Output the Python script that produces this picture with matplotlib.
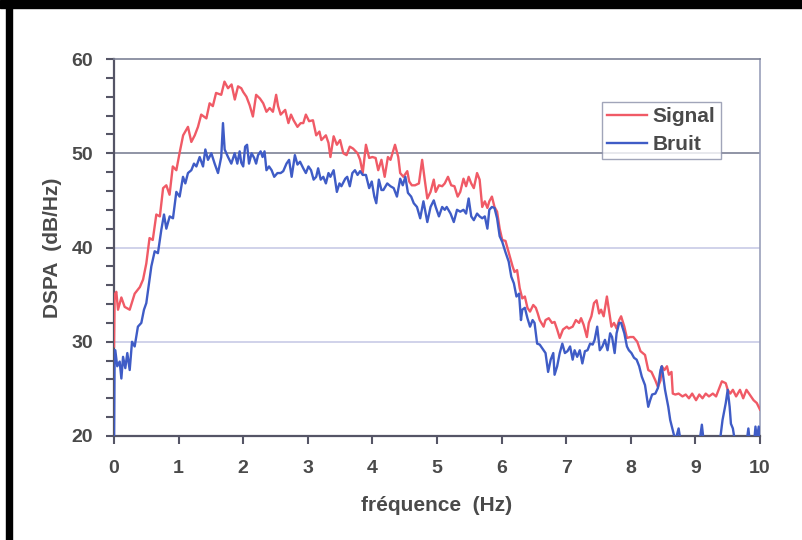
import matplotlib
matplotlib.use('Agg')
import matplotlib.pyplot as plt
from matplotlib.patches import Rectangle
from matplotlib.ticker import MultipleLocator

# Signal (red)
sig_f = [0.0, 0.01, 0.036, 0.062, 0.114, 0.165, 0.243, 0.32, 0.40, 0.45,
         0.50, 0.55, 0.60, 0.655, 0.71, 0.76, 0.81, 0.86, 0.91, 0.965,
         1.02, 1.07, 1.12, 1.145, 1.197, 1.25, 1.30, 1.35, 1.43, 1.48,
         1.53, 1.58, 1.66, 1.71, 1.765, 1.82, 1.87, 1.92, 1.97, 2.0,
         2.05, 2.1, 2.15, 2.2, 2.26, 2.31, 2.36, 2.41, 2.46, 2.51,
         2.54, 2.58, 2.65, 2.70, 2.74, 2.78, 2.84, 2.89, 2.93, 2.97,
         3.02, 3.08, 3.13, 3.18, 3.21, 3.28, 3.32, 3.35, 3.40, 3.45,
         3.50, 3.55, 3.60, 3.65, 3.70, 3.77, 3.81, 3.85, 3.90, 3.95,
         4.0, 4.05, 4.09, 4.14, 4.19, 4.24, 4.28, 4.31, 4.35, 4.40,
         4.43, 4.48, 4.54, 4.57, 4.61, 4.66, 4.72, 4.77, 4.81, 4.85,
         4.90, 4.95, 4.98, 5.03, 5.08, 5.12, 5.17, 5.22, 5.27, 5.32,
         5.36, 5.41, 5.45, 5.49, 5.53, 5.57, 5.62, 5.66, 5.70, 5.74,
         5.78, 5.81, 5.85, 5.89, 5.93, 5.97, 6.01, 6.06, 6.13, 6.17,
         6.20, 6.24, 6.28, 6.32, 6.36, 6.40, 6.44, 6.49, 6.53, 6.56,
         6.59, 6.65, 6.68, 6.73, 6.78, 6.82, 6.86, 6.90, 6.95, 7.01,
         7.04, 7.10, 7.15, 7.20, 7.23, 7.27, 7.32, 7.35, 7.39, 7.43,
         7.47, 7.51, 7.54, 7.58, 7.63, 7.66, 7.70, 7.74, 7.78, 7.82,
         7.85, 7.90, 7.94, 7.99, 8.04, 8.10, 8.15, 8.22, 8.27, 8.32,
         8.38, 8.42, 8.46, 8.48, 8.52, 8.56, 8.59, 8.63, 8.65, 8.69,
         8.74, 8.80, 8.85, 8.90, 8.95, 9.01, 9.06, 9.11, 9.16, 9.21,
         9.27, 9.32, 9.37, 9.41, 9.47, 9.50, 9.54, 9.58, 9.63, 9.69,
         9.74, 9.79, 9.84, 9.90, 9.95, 10.0]
sig_db = [29.5, 35.0, 35.3, 33.4, 34.7, 33.7, 33.4, 35.1, 35.8, 36.6,
          38.3, 41.0, 40.8, 43.5, 43.3, 46.3, 46.6, 45.6, 48.6, 48.2,
          50.2, 51.9, 52.5, 52.8, 51.2, 51.9, 52.8, 54.1, 53.7, 55.3,
          55.0, 56.4, 56.2, 57.6, 56.9, 57.3, 55.7, 57.1, 56.9, 56.5,
          56.0, 55.1, 53.9, 56.2, 55.8, 55.3, 54.4, 54.8, 54.4, 56.2,
          55.0, 54.1, 54.6, 53.2, 54.1, 53.5, 52.8, 53.2, 53.2, 54.1,
          53.4, 53.5, 51.9, 52.3, 51.4, 51.9, 51.1, 49.6, 51.8, 50.9,
          51.4, 50.0, 49.8, 50.7, 50.5, 50.0, 49.3, 47.9, 50.9, 49.5,
          49.6, 49.5, 48.2, 49.3, 47.5, 49.6, 49.3, 50.0, 50.9, 49.6,
          47.9, 47.5, 48.1, 47.0, 46.6, 46.6, 46.8, 49.3, 47.2, 45.2,
          45.9, 47.2, 45.9, 46.6, 46.5, 46.8, 47.5, 46.6, 46.5, 45.4,
          45.9, 47.3, 46.5, 47.5, 46.8, 46.3, 47.9, 47.2, 44.3, 44.9,
          44.2, 44.9, 45.4, 44.3, 43.8, 42.0, 40.8, 40.7, 39.0, 38.0,
          37.4, 37.6, 35.7, 34.6, 34.8, 33.6, 33.2, 33.9, 33.6, 33.0,
          32.3, 31.6, 32.3, 32.5, 32.0, 32.1, 31.3, 30.4, 31.3, 31.6,
          31.4, 31.6, 32.3, 32.0, 32.5, 31.8, 30.5, 32.0, 32.7, 34.1,
          34.4, 33.0, 33.4, 32.7, 34.8, 33.4, 31.6, 32.0, 31.4, 32.3,
          32.7, 31.6, 30.4, 30.5, 30.5, 30.0, 29.0, 28.6, 27.0, 26.8,
          25.9, 25.2, 25.9, 27.4, 27.0, 27.4, 26.5, 26.8, 24.5, 24.4,
          24.5, 24.2, 24.4, 24.0, 24.5, 23.8, 24.4, 24.0, 24.5, 24.2,
          24.5, 24.2, 25.1, 25.8, 25.6, 24.9, 24.5, 24.9, 24.2, 24.9,
          24.0, 24.9, 24.4, 23.8, 23.5, 22.8]

# Bruit (blue)
bru_f = [0.0, 0.01, 0.02, 0.05, 0.088, 0.114, 0.14, 0.175, 0.206, 0.243,
         0.279, 0.32, 0.37, 0.423, 0.464, 0.50, 0.536, 0.578, 0.63, 0.68,
         0.733, 0.774, 0.81, 0.862, 0.913, 0.965, 1.016, 1.068, 1.104, 1.145,
         1.197, 1.238, 1.275, 1.326, 1.378, 1.414, 1.455, 1.507, 1.558, 1.61,
         1.66, 1.687, 1.713, 1.765, 1.816, 1.868, 1.909, 1.945, 1.97, 2.0,
         2.03, 2.06, 2.09, 2.13, 2.17, 2.2, 2.23, 2.27, 2.30, 2.33,
         2.36, 2.40, 2.44, 2.48, 2.53, 2.58, 2.62, 2.67, 2.71, 2.75,
         2.80, 2.84, 2.88, 2.93, 2.97, 3.01, 3.05, 3.09, 3.13, 3.16,
         3.20, 3.24, 3.28, 3.32, 3.35, 3.40, 3.45, 3.49, 3.52, 3.58,
         3.61, 3.65, 3.69, 3.73, 3.77, 3.81, 3.85, 3.90, 3.95, 3.99,
         4.03, 4.06, 4.10, 4.14, 4.17, 4.23, 4.28, 4.33, 4.38, 4.43,
         4.47, 4.51, 4.55, 4.60, 4.64, 4.69, 4.74, 4.79, 4.85, 4.90,
         4.95, 4.98, 5.03, 5.08, 5.12, 5.15, 5.21, 5.26, 5.31, 5.36,
         5.41, 5.45, 5.49, 5.53, 5.57, 5.62, 5.66, 5.70, 5.74, 5.78,
         5.81, 5.85, 5.89, 5.93, 5.97, 6.01, 6.06, 6.11, 6.15, 6.19,
         6.23, 6.27, 6.30, 6.32, 6.36, 6.40, 6.44, 6.48, 6.51, 6.55,
         6.59, 6.65, 6.68, 6.72, 6.76, 6.80, 6.82, 6.86, 6.90, 6.94,
         6.98, 7.02, 7.06, 7.10, 7.13, 7.17, 7.21, 7.25, 7.29, 7.33,
         7.37, 7.41, 7.44, 7.48, 7.52, 7.56, 7.60, 7.64, 7.68, 7.71,
         7.75, 7.78, 7.82, 7.85, 7.90, 7.94, 7.97, 8.01, 8.05, 8.09,
         8.13, 8.17, 8.22, 8.27, 8.30, 8.33, 8.38, 8.42, 8.46, 8.48,
         8.51, 8.53, 8.58, 8.61, 8.65, 8.69, 8.74, 8.77, 8.85, 8.95,
         9.06, 9.10, 9.13, 9.27, 9.38, 9.42, 9.47, 9.50, 9.53, 9.55,
         9.58, 9.61, 9.79, 9.82, 9.84, 9.91, 9.93, 9.95, 9.98, 10.0]
bru_db = [19.0, 29.1, 29.1, 27.4, 27.9, 26.1, 28.4, 27.2, 28.8, 27.0,
          30.0, 29.5, 31.6, 32.0, 33.4, 34.1, 35.9, 38.0, 39.6, 39.4,
          41.9, 43.5, 42.0, 43.3, 43.1, 45.9, 45.4, 47.5, 46.8, 47.9,
          48.2, 48.9, 48.6, 49.6, 48.6, 50.4, 49.3, 50.0, 48.9, 47.9,
          49.6, 53.2, 50.4, 49.6, 48.9, 50.0, 48.9, 50.2, 49.0, 48.6,
          50.7, 50.9, 48.9, 50.0, 49.5, 48.9, 49.8, 50.2, 49.6, 50.2,
          48.2, 48.6, 48.2, 47.5, 47.9, 47.9, 48.1, 48.9, 49.3, 47.5,
          49.8, 48.8, 49.1, 48.4, 47.9, 48.6, 48.2, 47.2, 47.5, 48.4,
          47.2, 47.5, 46.8, 47.9, 47.5, 48.2, 45.9, 46.8, 46.5, 47.3,
          47.5, 46.5, 47.9, 48.2, 47.7, 48.1, 47.7, 47.7, 46.3, 47.0,
          45.4, 44.7, 47.2, 46.1, 46.1, 46.8, 46.5, 46.3, 45.4, 47.3,
          46.6, 47.5, 45.8, 45.4, 44.7, 44.3, 43.1, 44.9, 42.7, 44.3,
          45.0, 44.3, 43.3, 44.3, 44.0, 44.3, 43.6, 42.7, 44.0, 43.8,
          44.0, 43.6, 45.2, 43.3, 42.9, 43.6, 43.3, 43.1, 43.3, 42.0,
          44.0, 44.3, 44.2, 43.1, 41.2, 40.6, 39.5, 38.5, 36.9, 36.2,
          34.8, 35.1, 32.3, 33.4, 33.6, 32.5, 31.6, 32.3, 32.0, 29.8,
          29.7, 29.1, 28.8, 26.8, 28.1, 28.8, 26.5, 27.4, 28.8, 29.8,
          28.8, 29.0, 29.5, 28.1, 29.1, 28.4, 29.1, 27.7, 29.0, 29.1,
          29.8, 29.7, 30.2, 31.6, 29.1, 29.5, 30.2, 29.1, 30.9, 30.5,
          28.8, 30.9, 32.0, 32.0, 30.9, 29.5, 29.1, 28.8, 28.3, 28.1,
          27.4, 26.3, 25.4, 23.1, 23.8, 24.4, 24.5, 25.1, 27.0, 27.4,
          25.9, 24.9, 23.1, 21.7, 20.6, 19.5, 20.8, 19.5, 18.8, 19.0,
          19.2, 21.2, 19.3, 18.8, 19.5, 21.7, 23.5, 24.9, 23.1, 21.3,
          20.8, 19.5, 19.2, 20.8, 19.5, 19.4, 21.0, 19.6, 21.0, 19.5]

labels = ['Signal', 'Bruit']
colors = ['#f05a66', '#3f5cc6']
txt = '#4a4a4a'
font = ['Liberation Sans', 'DejaVu Sans']

plt.rcParams['font.family'] = font
plt.rcParams['font.weight'] = 'bold'
plt.rcParams['axes.labelweight'] = 'bold'

fig = plt.figure(figsize=(8.02, 5.40), dpi=100)
ax = fig.add_axes([114 / 802, 1 - 436 / 540, 646 / 802, 377 / 540])

# black frame around the picture (top and left)
fig.patches.append(Rectangle((0, 1 - 8 / 540), 1, 8 / 540, transform=fig.transFigure,
                             color='black', zorder=0))
fig.patches.append(Rectangle((6 / 802, 0), 6 / 802, 1, transform=fig.transFigure,
                             color='black', zorder=0))

for yv in [30, 40]:
    ax.axhline(yv, color='#c8cbe6', lw=1.2, zorder=1)
ax.axhline(50, color='#7d8296', lw=1.2, zorder=1)

ax.plot(sig_f, sig_db, color=colors[0], lw=1.7, label=labels[0], zorder=3)
ax.plot(bru_f, bru_db, color=colors[1], lw=1.7, label=labels[1], zorder=4)

ax.set_xlim(0, 10)
ax.set_ylim(20, 60)
ax.xaxis.set_major_locator(MultipleLocator(1))
ax.yaxis.set_major_locator(MultipleLocator(10))
ax.yaxis.set_minor_locator(MultipleLocator(2))

ax.tick_params(axis='both', which='both', direction='out', length=6, width=1.5,
               color='#555566', labelcolor=txt, labelsize=14)
ax.tick_params(axis='y', which='both', pad=9)
ax.tick_params(axis='x', which='major', pad=11)

for side in ['left', 'bottom']:
    ax.spines[side].set_color('#555566')
    ax.spines[side].set_linewidth(1.6)
ax.spines['top'].set_color('#7d8296')
ax.spines['top'].set_linewidth(1.2)
ax.spines['right'].set_color('#9aa0ba')
ax.spines['right'].set_linewidth(1.2)

ax.set_xlabel('fréquence  (Hz)', fontsize=15, fontweight='bold', color=txt, labelpad=14)
ax.set_ylabel('DSPA  (dB/Hz)', fontsize=15, fontweight='bold', color=txt, labelpad=7)

leg = ax.legend(loc='upper left', bbox_to_anchor=(0.755, 0.887), borderaxespad=0,
                fontsize=15, frameon=True, fancybox=False, handlelength=1.9,
                handletextpad=0.3, labelspacing=0.45, borderpad=0.25)
leg.get_frame().set_edgecolor('#8a8fa8')
leg.get_frame().set_linewidth(1.0)
for t in leg.get_texts():
    t.set_color(txt)

fig.savefig('out.png', dpi=100)
